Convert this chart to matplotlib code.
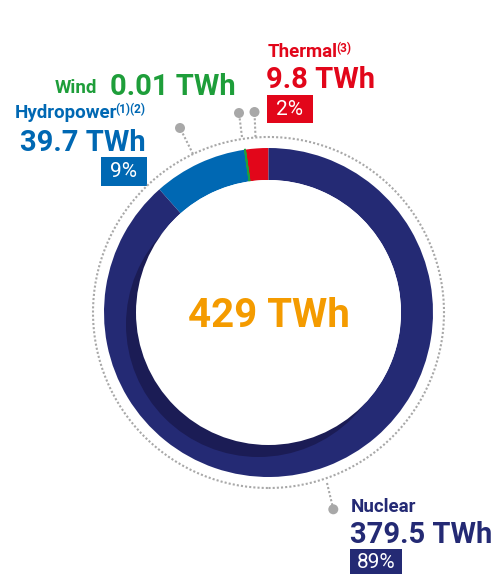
import matplotlib
matplotlib.use("Agg")
import matplotlib.pyplot as plt
from matplotlib.patches import Circle, Rectangle

# data (counter-clockwise from 12 o'clock)
sources = ["Thermal", "Wind", "Hydropower", "Nuclear"]
values_twh = [9.8, 0.01, 39.7, 379.5]
pct_labels = ["2%", "", "9%", "89%"]
footnotes = ["(3)", "", "(1)(2)", ""]

colors = {"Thermal": "#E2061A", "Wind": "#1FA03C",
          "Hydropower": "#0068B3", "Nuclear": "#242A74"}
text_colors = {"Thermal": "#E2061A", "Wind": "#1E9E3A",
               "Hydropower": "#0068B3", "Nuclear": "#242A74"}
SHADOW = "#1B1C55"
ORANGE = "#F49B00"
GRAY = "#A8A8A8"

W, H = 498, 574
FONT = "Roboto"


def Y(y):
    """image row -> data y"""
    return H - y


fig = plt.figure(figsize=(W / 100, H / 100), dpi=100)
ax = fig.add_axes([0, 0, 1, 1])

cx, cy = 268.5, Y(312.5)
r_out, ring = 164.5, 32
r_in = r_out - ring

wedges, _ = ax.pie(values_twh, colors=[colors[s] for s in sources],
                   radius=r_out, center=(cx, cy), startangle=90,
                   counterclock=True,
                   wedgeprops=dict(width=ring, linewidth=0))
# wind is too small to be seen, give it an outline like the original
for w, s in zip(wedges, sources):
    if s == "Wind":
        w.set_edgecolor(colors[s])
        w.set_linewidth(1.3)
        w.set_zorder(3)

ax.set_xlim(0, W)
ax.set_ylim(0, H)
ax.set_aspect("equal")
ax.axis("off")

# inner shadow then white hole
ax.add_patch(Circle((cx - 10, cy - 12), r_in, color=SHADOW, lw=0, zorder=4))
ax.add_patch(Circle((cx, cy), r_in, color="white", lw=0, zorder=5))

# dotted outer circle
ax.add_patch(Circle((cx, cy), 175.5, fill=False, ec=GRAY, lw=1.5,
                    linestyle=(0, (1, 1.0)), zorder=2))

# leader lines with dots
leaders = {
    "Hydropower": ((193, 154), (180, 128)),
    "Wind": ((242, 137), (239, 113)),
    "Thermal": ((255.5, 137), (254.5, 112)),
    "Nuclear": ((327, 483), (333.3, 509.3)),
}
for s, (p0, p1) in leaders.items():
    ax.plot([p0[0], p1[0]], [Y(p0[1]), Y(p1[1])], color=GRAY, lw=1.5,
            linestyle=(0, (1, 1.0)), zorder=2)
    ax.add_patch(Circle((p1[0], Y(p1[1])), 5, color=GRAY, lw=0, zorder=2))

# total in the middle
total = sum(values_twh)
ax.text(cx, Y(326.7), f"{total:.0f} TWh", color=ORANGE, fontsize=29,
        fontweight="bold", family=FONT, ha="center", va="baseline", zorder=6)

# label blocks: name, value, percentage box
layout = {
    "Thermal": (267.5, 56.7, 266.5, 88.3, (267, 95, 312.7, 123.3), "left"),
    "Hydropower": (117, 118, 146, 150.7, (101, 156.7, 146.7, 185.7), "right"),
    "Nuclear": (350.5, 511.7, 349.5, 543.3, (350, 549.3, 401.7, 574), "left"),
}
renderer = fig.canvas.get_renderer()
for s, v, pct, fn in zip(sources, values_twh, pct_labels, footnotes):
    c = text_colors[s]
    if s == "Wind":
        ax.text(55, Y(93), "Wind", color=c, fontsize=13.5, fontweight="bold",
                family=FONT, ha="left", va="baseline")
        ax.text(110, Y(95), f"{v:g} TWh", color=c, fontsize=21,
                fontweight="bold", family=FONT, ha="left", va="baseline")
        continue
    nx, ny, vx, vy, box, align = layout[s]
    name = ax.text(nx, Y(ny), s, color=c, fontsize=13.5, fontweight="bold",
                   family=FONT, ha=align, va="baseline")
    if fn:
        bb = name.get_window_extent(renderer)
        ax.text(bb.x1 - 1.5, Y(ny - 4.5), fn, color=c, fontsize=8.5,
                fontweight="bold", family=FONT, ha="left", va="baseline")
    ax.text(vx, Y(vy), f"{v:g} TWh", color=c, fontsize=21, fontweight="bold",
            family=FONT, ha=align, va="baseline")
    x0, y0, x1, y1 = box
    ax.add_patch(Rectangle((x0, Y(y1)), x1 - x0, y1 - y0, color=colors[s], lw=0))
    ax.text((x0 + x1) / 2, Y((y0 + y1) / 2) - 0.5, pct, color="white",
            fontsize=15, family=FONT, ha="center", va="center")

fig.savefig("out.png", dpi=100)
